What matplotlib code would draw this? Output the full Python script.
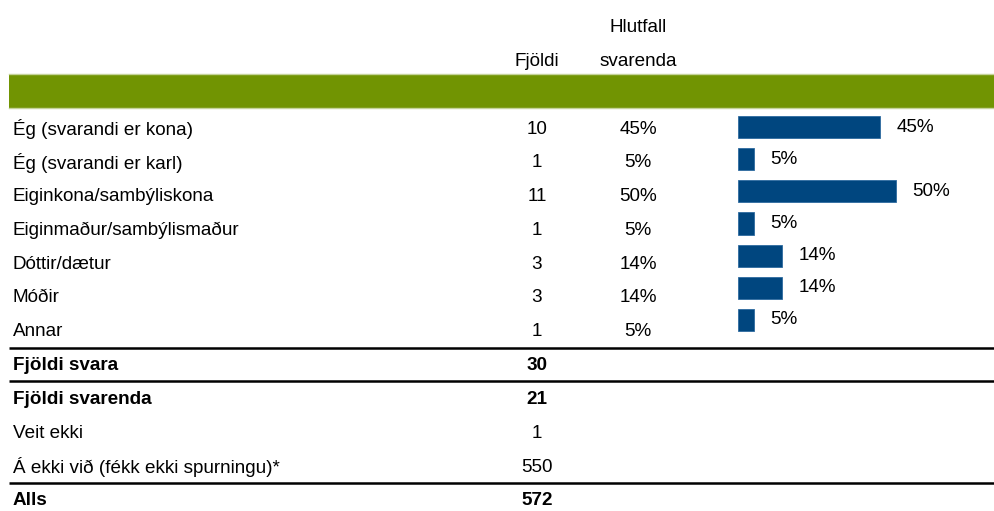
import matplotlib.pyplot as plt
from matplotlib import font_manager

# Table data
row_labels = ['Ég (svarandi er kona)', 'Ég (svarandi er karl)', 'Eiginkona/sambýliskona',
              'Eiginmaður/sambýlismaður', 'Dóttir/dætur', 'Móðir', 'Annar',
              'Fjöldi svara', 'Fjöldi svarenda', 'Veit ekki',
              'Á ekki við (fékk ekki spurningu)*', 'Alls']
counts = [10, 1, 11, 1, 3, 3, 1, 30, 21, 1, 550, 572]
shares = [45, 5, 50, 5, 14, 14, 5]
bold_rows = ['Fjöldi svara', 'Fjöldi svarenda', 'Alls']
line_after = ['Annar', 'Fjöldi svara', 'Á ekki við (fékk ekki spurningu)*']

installed = {f.name for f in font_manager.fontManager.ttflist}
fam = [f for f in ['Liberation Sans', 'Arial'] if f in installed] + ['DejaVu Sans']
plt.rcParams['font.family'] = fam
fs = 13.6

W, H = 994, 511
fig = plt.figure(figsize=(W / 100, H / 100), dpi=100)

# pixel-space axes for the table part
ax = fig.add_axes([0, 0, 1, 1])
ax.set_xlim(0, W)
ax.set_ylim(H, 0)
ax.axis('off')

x_label, x_count, x_share = 13, 537, 638
row0, pitch = 129, 33.8

# header
ax.text(x_share, 28, 'Hlutfall', ha='center', va='center', fontsize=fs)
ax.text(x_share, 62, 'svarenda', ha='center', va='center', fontsize=fs)
ax.text(x_count, 62, 'Fjöldi', ha='center', va='center', fontsize=fs)
ax.add_patch(plt.Rectangle((9, 74), W - 9, 34, color='#719402', lw=0))
ax.plot([9, W], [74.5, 74.5], color='#c5d39a', lw=1)
ax.plot([9, W], [108, 108], color='#c5d39a', lw=1)

for i, (lab, n) in enumerate(zip(row_labels, counts)):
    y = row0 + i * pitch
    w = 'bold' if lab in bold_rows else 'normal'
    ax.text(x_label, y, lab, ha='left', va='center', fontsize=fs, fontweight=w)
    ax.text(x_count, y, str(n), ha='center', va='center', fontsize=fs, fontweight=w)
    if i < len(shares):
        ax.text(x_share, y, f'{shares[i]}%', ha='center', va='center', fontsize=fs)
    if lab in line_after:
        yl = y + pitch / 2 - 1
        ax.plot([9, W], [yl, yl], color='black', lw=1.8, solid_capstyle='butt')

# bar chart part
bx = fig.add_axes([738 / W, (H - 336) / H, 256 / W, 225 / H])
bx.set_xlim(0, 256 / 3.16)
bx.set_ylim(len(shares) - 0.5, -0.5)
bx.barh(range(len(shares)), shares, height=0.69, color='#00467f', edgecolor='#2d6aa0', lw=0.6)
for i, v in enumerate(shares):
    bx.annotate(f'{v}%', xy=(v, i), xytext=(11.5, 0), textcoords='offset points',
                ha='left', va='center', fontsize=fs)
bx.axis('off')

fig.savefig('out.png', dpi=100)
